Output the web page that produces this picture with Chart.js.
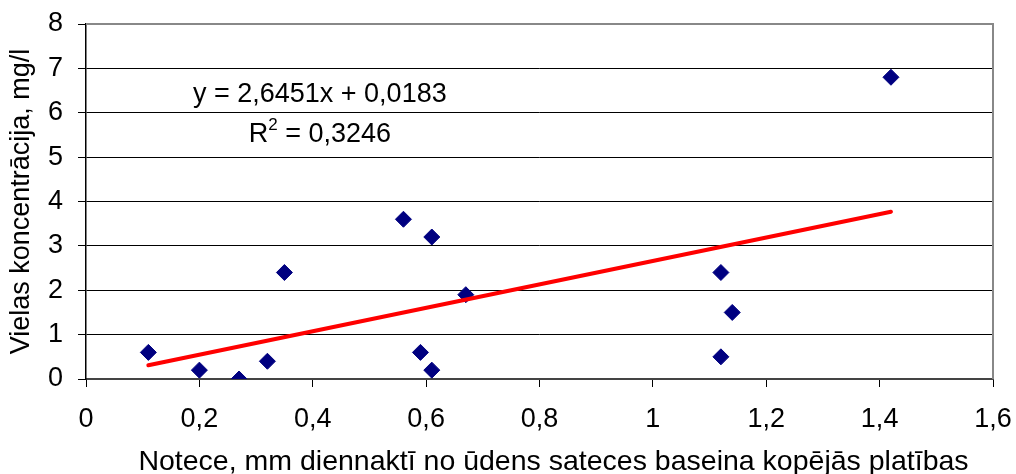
<!DOCTYPE html>
<html>
<head>
<meta charset="utf-8">
<script src="https://cdn.jsdelivr.net/npm/chart.js@4"></script>
<style>
  html, body { margin: 0; padding: 0; background: #fff; }
  #wrap { width: 1016px; height: 474px; }
</style>
</head>
<body>
<div id="wrap"><canvas id="chart" width="1016" height="474"></canvas></div>
<script>
const runoff = [0.11, 0.20, 0.27, 0.32, 0.35, 0.56, 0.59, 0.61, 0.61, 0.67, 1.12, 1.14, 1.12, 1.42];
const concentration = [0.6, 0.2, 0.0, 0.4, 2.4, 3.6, 0.6, 3.2, 0.2, 1.9, 2.4, 1.5, 0.5, 6.8];

// linear trend line ends
const trendX = [0.11, 1.42];
const trendY = [0.31, 3.77];

const equationText = 'y = 2,6451x + 0,0183';
const r2Value = '0,3246';

const xTitle = 'Notece, mm diennaktī no ūdens sateces baseina kopējās platības';
const yTitle = 'Vielas koncentrācija, mg/l';

const FONT = '"Liberation Sans", Arial, sans-serif';

const fmtComma = v => String(Math.round(v * 10) / 10).replace('.', ',');

// gray frame on top and right of the plot area
const frame = {
    id: 'frame',
    afterDraw(chart) {
        const { ctx, chartArea: a } = chart;
        ctx.save();
        ctx.strokeStyle = '#888';
        ctx.lineWidth = 2;
        ctx.beginPath();
        ctx.moveTo(a.left, a.top);
        ctx.lineTo(a.right, a.top);
        ctx.lineTo(a.right, a.bottom);
        ctx.stroke();
        ctx.restore();
    }
};

// x axis title, sits a bit right of the plot centre like the original
const xTitlePlugin = {
    id: 'xTitle',
    afterDraw(chart) {
        const { ctx, chartArea: a } = chart;
        ctx.save();
        ctx.fillStyle = '#000';
        ctx.font = '28.5px ' + FONT;
        ctx.textAlign = 'center';
        ctx.textBaseline = 'alphabetic';
        ctx.fillText(xTitle, (a.left + a.right) / 2 + 14, chart.height - 4);
        ctx.restore();
    }
};

// trend equation and R^2 label
const equation = {
    id: 'equation',
    afterDraw(chart) {
        const { ctx, scales } = chart;
        const cx = scales.x.getPixelForValue(0.4125);
        ctx.save();
        ctx.fillStyle = '#000';
        ctx.textBaseline = 'middle';
        ctx.font = '27px ' + FONT;
        ctx.textAlign = 'center';
        ctx.fillText(equationText, cx, scales.y.getPixelForValue(6.4));

        const y2 = scales.y.getPixelForValue(5.5);
        const rest = ' = ' + r2Value;
        ctx.font = '27px ' + FONT;
        const wR = ctx.measureText('R').width;
        const wRest = ctx.measureText(rest).width;
        ctx.font = '17px ' + FONT;
        const wSup = ctx.measureText('2').width;
        let x = cx - (wR + wSup + wRest) / 2;
        ctx.textAlign = 'left';
        ctx.font = '27px ' + FONT;
        ctx.fillText('R', x, y2);
        x += wR;
        ctx.font = '17px ' + FONT;
        ctx.fillText('2', x, y2 - 10);
        x += wSup;
        ctx.font = '27px ' + FONT;
        ctx.fillText(rest, x, y2);
        ctx.restore();
    }
};

new Chart(document.getElementById('chart').getContext('2d'), {
    type: 'scatter',
    data: {
        datasets: [{
            data: runoff.map((x, i) => ({ x, y: concentration[i] })),
            pointStyle: 'rectRot',
            pointRadius: 8,
            pointBorderWidth: 1,
            backgroundColor: '#000080',
            borderColor: '#000080',
            order: 1
        }, {
            type: 'line',
            data: trendX.map((x, i) => ({ x, y: trendY[i] })),
            showLine: true,
            borderColor: '#ff0000',
            borderWidth: 4,
            borderCapStyle: 'round',
            pointRadius: 0,
            fill: false,
            order: 0
        }]
    },
    options: {
        responsive: false,
        animation: false,
        layout: { padding: { top: 24, right: 23, left: 0, bottom: 0 } },
        plugins: {
            legend: { display: false },
            tooltip: { enabled: false }
        },
        scales: {
            x: {
                type: 'linear',
                min: 0,
                max: 1.6,
                afterFit: s => { s.height = 95; s.paddingLeft = 0; s.paddingRight = 0; },
                ticks: {
                    stepSize: 0.2,
                    padding: 16,
                    color: '#000',
                    font: { family: FONT, size: 27 },
                    maxRotation: 0,
                    callback: fmtComma
                },
                grid: {
                    drawOnChartArea: false,
                    drawTicks: true,
                    tickLength: 8,
                    color: '#000',
                    lineWidth: 1
                },
                border: { display: true, color: '#444', width: 2 },
                title: { display: false }
            },
            y: {
                min: 0,
                max: 8,
                afterFit: s => { s.width = 86; s.paddingTop = 0; s.paddingBottom = 0; },
                ticks: {
                    stepSize: 1,
                    padding: 15,
                    color: '#000',
                    font: { family: FONT, size: 27 },
                    callback: fmtComma
                },
                grid: {
                    drawTicks: true,
                    tickLength: 8,
                    color: '#000',
                    lineWidth: 1
                },
                border: { display: true, color: '#000', width: 1.5 },
                title: {
                    display: true,
                    text: yTitle,
                    color: '#000',
                    font: { family: FONT, size: 27, lineHeight: 1 },
                    padding: { top: 8, bottom: 0 }
                }
            }
        }
    },
    plugins: [frame, xTitlePlugin, equation]
});
</script>
</body>
</html>
